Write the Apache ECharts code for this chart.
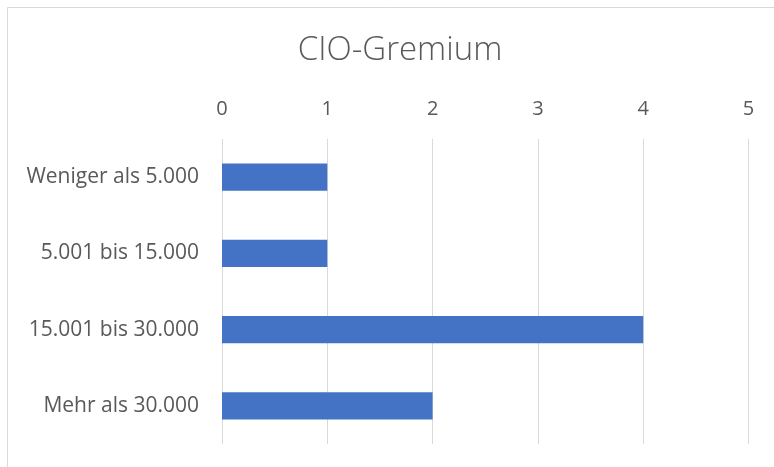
<!DOCTYPE html>
<html><head><meta charset="utf-8">
<script src="https://cdn.jsdelivr.net/npm/echarts@6/dist/echarts.min.js"></script>
<style>html,body{margin:0;padding:0;background:#fff}#c{width:774px;height:467px}</style>
</head><body><div id="c"></div>
<script>
const titleText = 'CIO-Gremium';
const categories = ['Weniger als 5.000', '5.001 bis 15.000', '15.001 bis 30.000', 'Mehr als 30.000'];
const values = [1, 1, 4, 2];
const xTicks = {min: 0, max: 5, interval: 1};

const chart = echarts.init(document.getElementById('c'), null, {renderer: 'canvas'});
const font = 'Open Sans';
chart.setOption({
  animation: false,
  backgroundColor: '#fff',
  graphic: [{
    type: 'rect', silent: true,
    shape: {x: 7.5, y: 7.5, width: 780, height: 480},
    style: {fill: 'none', stroke: '#d9d9d9', lineWidth: 1}
  }],
  title: {
    text: titleText, left: 395, top: 29, textAlign: 'center',
    textStyle: {fontFamily: font, fontWeight: 300, fontSize: 33, color: '#595959'}
  },
  grid: {left: 222, right: 25.5, top: 139, bottom: 23},
  xAxis: {
    type: 'value', position: 'top', min: xTicks.min, max: xTicks.max, interval: xTicks.interval,
    axisLine: {show: false}, axisTick: {show: false},
    splitLine: {show: true, lineStyle: {color: '#d9d9d9', width: 1}},
    axisLabel: {fontFamily: font, fontSize: 20, color: '#595959', margin: 20}
  },
  yAxis: {
    type: 'category', data: categories, inverse: true,
    axisLine: {show: false}, axisTick: {show: false},
    axisLabel: {fontFamily: font, fontSize: 21, color: '#595959', margin: 23}
  },
  series: [{
    type: 'bar', data: values, barWidth: '35.5%',
    itemStyle: {color: '#4472c4'}
  }]
});
</script></body></html>
